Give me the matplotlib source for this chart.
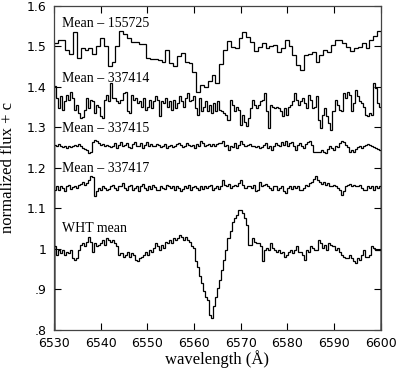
"""
Stacked mean spectra around H-alpha, drawn as histogram steps.
"""
import numpy as np
import matplotlib
matplotlib.use("Agg")
import matplotlib.pyplot as plt

# =========================================================================
# DATA (normalized flux + offset)
# =========================================================================

WAVE_MIN, WAVE_MAX = 6530.0, 6600.0

flux_155725 = [
    1.508, 1.516, 1.516, 1.490, 1.480, 1.535, 1.470, 1.495, 1.490, 1.495,
    1.480, 1.500, 1.520, 1.500, 1.450, 1.460, 1.500, 1.538, 1.530, 1.520,
    1.510, 1.510, 1.505, 1.505, 1.470, 1.468, 1.468,
    1.467, 1.460, 1.491, 1.459, 1.450, 1.475, 1.482, 1.462, 1.459, 1.435,
    1.388, 1.405, 1.400, 1.413, 1.428, 1.410, 1.457, 1.491, 1.512, 1.497,
    1.495, 1.520, 1.535, 1.522, 1.510, 1.489, 1.497, 1.508, 1.495,
    1.500, 1.502, 1.486, 1.495, 1.516, 1.500, 1.479, 1.454, 1.442, 1.479,
    1.480, 1.486, 1.461, 1.479, 1.491, 1.486, 1.502, 1.514, 1.516, 1.508,
    1.497, 1.489, 1.495, 1.497, 1.508, 1.495, 1.516, 1.524, 1.537,
]

flux_337414 = [
    1.401, 1.372, 1.347, 1.376, 1.343, 1.364, 1.380, 1.368, 1.388, 1.372,
    1.343, 1.356, 1.335, 1.323, 1.324, 1.343, 1.372, 1.347, 1.368, 1.364,
    1.335, 1.356, 1.351, 1.327, 1.323, 1.368, 1.380, 1.364, 1.409, 1.372,
    1.372, 1.364, 1.360, 1.368, 1.384, 1.388, 1.339, 1.335, 1.380, 1.368,
    1.372, 1.360, 1.364, 1.351, 1.372, 1.343, 1.351, 1.368, 1.347, 1.364,
    1.376, 1.368, 1.327, 1.364, 1.360, 1.372, 1.351, 1.364, 1.343, 1.368,
    1.347, 1.360, 1.376, 1.364, 1.351, 1.372, 1.384, 1.364, 1.368, 1.376,
    1.347, 1.331, 1.372, 1.339, 1.351, 1.364, 1.339, 1.356, 1.335, 1.360,
    1.339,
    1.364, 1.343, 1.339, 1.335, 1.331, 1.319, 1.368, 1.356, 1.339, 1.351,
    1.343, 1.306, 1.331, 1.314, 1.302, 1.323, 1.347, 1.368, 1.356, 1.347,
    1.356, 1.364, 1.368, 1.384, 1.339, 1.298, 1.356, 1.351, 1.347, 1.351,
    1.347, 1.339, 1.327, 1.347, 1.331, 1.351, 1.356, 1.364, 1.384, 1.368,
    1.356, 1.364, 1.372, 1.360, 1.347, 1.380, 1.368, 1.347, 1.351, 1.376,
    1.319, 1.298, 1.331, 1.347, 1.327, 1.310, 1.294, 1.339, 1.368, 1.356,
    1.343, 1.339, 1.384, 1.372, 1.388, 1.380, 1.339, 1.360, 1.393, 1.376,
    1.364, 1.360, 1.351, 1.331, 1.327, 1.335, 1.331, 1.409, 1.397, 1.360,
    1.351,
]

flux_337415 = [
    1.257, 1.253, 1.259, 1.254, 1.251, 1.254, 1.249, 1.253, 1.251, 1.254,
    1.257, 1.253, 1.259, 1.253, 1.249, 1.246, 1.244, 1.236, 1.240, 1.263,
    1.269, 1.265, 1.261, 1.257, 1.259, 1.254, 1.257, 1.253, 1.251, 1.254,
    1.261, 1.249, 1.257, 1.263, 1.253, 1.257, 1.261, 1.251, 1.249, 1.259,
    1.263, 1.253, 1.254, 1.261, 1.249, 1.257, 1.263, 1.254, 1.258, 1.253,
    1.254, 1.259, 1.256, 1.251, 1.254, 1.258, 1.249, 1.253, 1.257, 1.251,
    1.254, 1.259, 1.261, 1.257, 1.251, 1.254, 1.261, 1.257, 1.253, 1.256,
    1.249, 1.259, 1.254, 1.267, 1.261, 1.253, 1.256, 1.259, 1.253, 1.258,
    1.254, 1.259, 1.261,
    1.261, 1.267, 1.253, 1.257, 1.244, 1.254, 1.251, 1.261, 1.249, 1.257,
    1.265, 1.259, 1.253, 1.256, 1.258, 1.254, 1.253, 1.251, 1.253, 1.249,
    1.251, 1.257, 1.261, 1.249, 1.253, 1.244, 1.254, 1.261, 1.257, 1.253,
    1.263, 1.257, 1.265, 1.253, 1.261, 1.263, 1.254, 1.243, 1.257, 1.261,
    1.253, 1.249, 1.259, 1.263, 1.267, 1.257, 1.240, 1.240, 1.240, 1.240,
    1.244, 1.240, 1.236, 1.246, 1.253, 1.249, 1.244, 1.254, 1.251, 1.261,
    1.267, 1.263, 1.257, 1.251, 1.238, 1.244, 1.240, 1.246, 1.251, 1.253,
    1.249, 1.254, 1.257, 1.259, 1.257, 1.253, 1.251, 1.249, 1.246, 1.244,
]

flux_337417 = [
    1.146, 1.154, 1.144, 1.155, 1.150, 1.142, 1.154, 1.158, 1.147, 1.152,
    1.155, 1.150, 1.158, 1.160, 1.164, 1.158, 1.162, 1.170, 1.179, 1.177,
    1.131, 1.142, 1.150, 1.146, 1.154, 1.150, 1.144, 1.147, 1.154, 1.158,
    1.150, 1.146, 1.154, 1.155, 1.162, 1.150, 1.144, 1.154, 1.158, 1.146,
    1.150, 1.155, 1.142, 1.154, 1.160, 1.150, 1.146, 1.154, 1.147, 1.158,
    1.152, 1.146, 1.144, 1.154, 1.150, 1.147, 1.158, 1.154, 1.150, 1.155,
    1.146, 1.154, 1.150, 1.142, 1.147, 1.154, 1.150, 1.158, 1.146, 1.152,
    1.155, 1.150, 1.146, 1.154, 1.147, 1.155, 1.150, 1.154, 1.158, 1.146,
    1.150, 1.154, 1.147,
    1.154, 1.170, 1.158, 1.155, 1.160, 1.150, 1.154, 1.157, 1.154, 1.162,
    1.169, 1.158, 1.150, 1.154, 1.155, 1.150, 1.158, 1.142, 1.146, 1.166,
    1.154, 1.158, 1.160, 1.154, 1.150, 1.146, 1.155, 1.154, 1.144, 1.150,
    1.154, 1.142, 1.137, 1.150, 1.154, 1.147, 1.155, 1.150, 1.154, 1.146,
    1.144, 1.150, 1.158, 1.154, 1.162, 1.166, 1.172, 1.179, 1.169, 1.164,
    1.160, 1.166, 1.158, 1.162, 1.155, 1.154, 1.158, 1.154, 1.150, 1.146,
    1.133, 1.142, 1.155, 1.158, 1.160, 1.154, 1.158, 1.155, 1.154, 1.158,
    1.150, 1.146, 1.144, 1.154, 1.150, 1.155, 1.146, 1.154, 1.150, 1.154,
]

flux_wht = [
    1.006, 0.985, 0.998, 0.989, 0.998, 0.985, 0.993, 0.989, 0.998, 0.977,
    0.973, 0.977, 0.998, 1.010, 1.014, 1.006, 1.018, 1.030, 1.018, 0.993,
    1.014, 1.006, 1.010, 1.014, 1.022, 1.010, 1.026, 1.022, 1.018, 1.022,
    1.014, 1.006, 0.985, 0.989, 0.981, 0.985, 0.993, 0.981, 0.989, 0.985,
    0.973, 0.969, 0.977, 0.981, 0.985, 0.993, 0.985, 0.998, 0.993, 1.002,
    1.014, 1.006, 0.998, 1.010, 1.002, 1.018, 1.014, 1.022, 1.014, 1.026,
    1.022, 1.026, 1.035, 1.030, 1.022, 1.030, 1.022, 1.018, 1.006, 1.002,
    0.969, 0.956, 0.932, 0.915, 0.895, 0.882, 0.874,
    0.837, 0.829, 0.858, 0.882, 0.903, 0.923, 0.948, 0.973, 0.998, 1.026,
    1.043, 1.067, 1.076, 1.084, 1.096, 1.095, 1.088, 1.076, 1.059, 1.010,
    1.010, 1.026, 1.018, 1.014, 1.014, 1.006, 0.969, 0.998, 1.002, 0.998,
    1.014, 1.002, 0.998, 0.993, 0.998, 0.989, 0.993, 0.981, 0.985, 0.993,
    0.998, 0.989, 0.998, 1.006, 0.993, 0.993, 0.985, 0.973, 0.998, 0.993,
    1.006, 1.002, 0.998, 0.998, 1.022, 1.014, 1.002, 1.010, 0.998, 1.014,
    1.010, 1.006, 0.998, 1.002, 0.993, 0.985, 0.981, 0.977, 0.977, 0.985,
    0.977, 0.969, 0.965, 0.977, 0.973, 0.985, 0.998, 0.981, 0.981, 0.985,
    1.006, 1.002, 0.998, 0.998, 0.998,
]

spectra = [flux_155725, flux_337414, flux_337415, flux_337417, flux_wht]
labels = ["Mean \u2013 155725", "Mean \u2013 337414", "Mean \u2013 337415",
          "Mean \u2013 337417", "WHT mean"]
label_y = [1.557, 1.420, 1.298, 1.199, 1.051]

xticks = [6530, 6540, 6550, 6560, 6570, 6580, 6590, 6600]
yticks = [0.8, 0.9, 1.0, 1.1, 1.2, 1.3, 1.4, 1.5, 1.6]
ytick_labels = [".8", ".9", "1", "1.1", "1.2", "1.3", "1.4", "1.5", "1.6"]

# =========================================================================
# PLOT
# =========================================================================

def main():
    fig = plt.figure(figsize=(3.96, 3.72), dpi=100)
    ax = fig.add_axes([0.136, 0.113, 0.826, 0.872])

    for flux in spectra:
        edges = np.linspace(WAVE_MIN, WAVE_MAX, len(flux) + 1)
        ax.stairs(flux, edges, color="black", lw=0.9)

    for text, y in zip(labels, label_y):
        ax.text(6531.8, y, text, family="Liberation Serif", fontsize=10,
                va="center", ha="left")

    ax.set_xlim(WAVE_MIN, WAVE_MAX)
    ax.set_ylim(0.8, 1.6)
    ax.set_xticks(xticks)
    ax.set_yticks(yticks)
    ax.set_yticklabels(ytick_labels)
    ax.tick_params(direction="in", length=5, width=0.8, top=True, right=True,
                   labelsize=9, pad=5)
    for sp in ax.spines.values():
        sp.set_linewidth(0.9)
        sp.set_color("#444444")

    ax.set_xlabel("wavelength (\u00c5)", family="Liberation Serif", fontsize=12)
    ax.set_ylabel("normalized flux + c", family="Liberation Serif", fontsize=12)
    ax.xaxis.set_label_coords(0.5, -0.062)
    ax.yaxis.set_label_coords(-0.115, 0.5)

    fig.savefig("out.png", dpi=100)


if __name__ == "__main__":
    main()
